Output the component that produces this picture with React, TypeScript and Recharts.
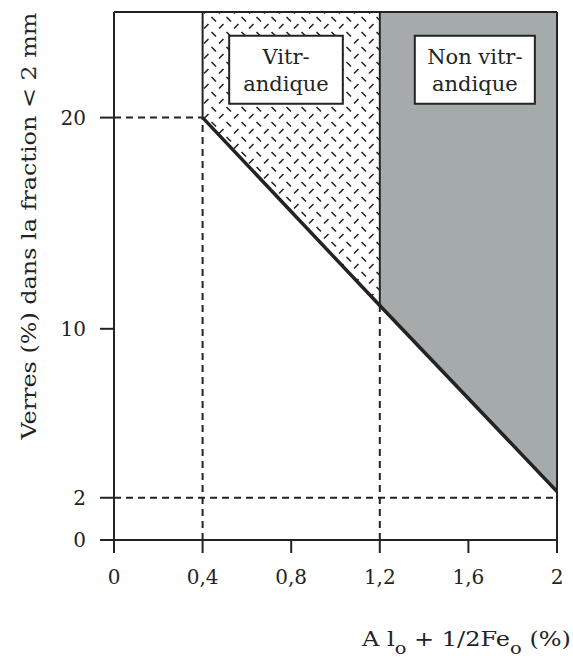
import {
  ComposedChart,
  Area,
  Line,
  XAxis,
  YAxis,
  ReferenceLine,
  ReferenceArea,
  Label,
} from 'recharts';

// axis ticks
const xTicks = [0, 0.4, 0.8, 1.2, 1.6, 2];
const yTicks = [0, 2, 10, 20];
const yTop = 25;

// lower boundary of the two glass domains (Al_o + 1/2Fe_o vs glass %)
const boundaryX = [0.4, 1.2, 2];
const boundaryY = [20, 11.1, 2.3];

// guide lines, [x1, y1, x2, y2]
const dashedGuides = [
  [0, 20, 0.4, 20],
  [0.4, 0, 0.4, 20],
  [1.2, 0, 1.2, 11.1],
  [0, 2, 2, 2],
];
const solidEdges = [
  [0.4, 20, 0.4, 25],
  [1.2, 11.1, 1.2, 25],
  [0, 25, 2, 25],
  [2, 0, 2, 25],
];

// label boxes, [x1, x2, y1, y2]
const boxLabels = [
  { lines: ['Vitr-', 'andique'], area: [0.52, 1.033, 20.65, 23.87] },
  { lines: ['Non vitr-', 'andique'], area: [1.358, 1.9, 20.65, 23.87] },
];

const INK = '#232323';
const FONT = 'DejaVu Serif';

const data = boundaryX.map((x, i) => ({
  x,
  vitr: i < 2 ? [boundaryY[i], yTop] : null,
  nonVitr: i >= 1 ? [boundaryY[i], yTop] : null,
  edge: boundaryY[i],
}));

const fmt = (v: number) => String(v).replace('.', ',');

const BoxText = ({ viewBox, lines }: any) => {
  if (!viewBox) return null;
  const cx = viewBox.x + viewBox.width / 2;
  const cy = viewBox.y + viewBox.height / 2;
  return (
    <text x={cx} y={cy} textAnchor="middle" fontFamily={FONT} fontSize={21} fill={INK}>
      <tspan x={cx} dy={-6}>{lines[0]}</tspan>
      <tspan x={cx} dy={27}>{lines[1]}</tspan>
    </text>
  );
};

export default function App() {
  return (
    <div style={{ position: 'absolute', left: 0, top: 0, background: '#fff' }}>
      <ComposedChart width={573} height={658} data={data} margin={{ top: 12, right: 16, bottom: 48, left: 0 }}>
        <defs>
          <pattern id="vitrHatch" width="15" height="15" patternUnits="userSpaceOnUse">
            <rect width="15" height="15" fill="#fff" />
            <line x1="1.5" y1="2" x2="6" y2="6.5" stroke={INK} strokeWidth={1.6} />
            <line x1="9" y1="13.5" x2="13.5" y2="9" stroke={INK} strokeWidth={1.6} />
          </pattern>
        </defs>
        <XAxis
          type="number"
          dataKey="x"
          domain={[0, 2]}
          ticks={xTicks}
          tickFormatter={fmt}
          allowDataOverflow
          height={70}
          tickSize={13}
          tickMargin={17}
          axisLine={{ stroke: INK, strokeWidth: 2 }}
          tickLine={{ stroke: INK, strokeWidth: 2 }}
          tick={{ fontSize: 20, fill: INK, fontFamily: FONT }}
        >
          <Label
            content={() => (
              <text
                x={362}
                y={646}
                fontFamily={FONT}
                fontSize={21}
                fill={INK}
                textLength={209}
                lengthAdjust="spacingAndGlyphs"
              >
                A l<tspan dy={8} fontSize={17}>o</tspan>
                <tspan dy={-8}> + 1/2Fe</tspan>
                <tspan dy={8} fontSize={17}>o</tspan>
                <tspan dy={-8}> (%)</tspan>
              </text>
            )}
          />
        </XAxis>
        <YAxis
          type="number"
          domain={[0, yTop]}
          ticks={yTicks}
          allowDataOverflow
          width={114}
          tickSize={14}
          tickMargin={14}
          axisLine={{ stroke: INK, strokeWidth: 2 }}
          tickLine={{ stroke: INK, strokeWidth: 2 }}
          tick={{ fontSize: 20, fill: INK, fontFamily: FONT }}
        >
          <Label
            content={() => (
              <text
                x={0}
                y={0}
                transform="translate(36 226) rotate(-90)"
                textAnchor="middle"
                fontFamily={FONT}
                fontSize={21}
                fill={INK}
                textLength={427}
                lengthAdjust="spacingAndGlyphs"
              >
                Verres (%) dans la fraction &lt; 2 mm
              </text>
            )}
          />
        </YAxis>
        <Area
          type="linear"
          dataKey="vitr"
          stroke="none"
          fill="url(#vitrHatch)"
          fillOpacity={1}
          isAnimationActive={false}
          connectNulls={false}
        />
        <Area
          type="linear"
          dataKey="nonVitr"
          stroke="none"
          fill="#a5abab"
          fillOpacity={1}
          isAnimationActive={false}
          connectNulls={false}
        />
        {dashedGuides.map(([x1, y1, x2, y2], i) => (
          <ReferenceLine
            key={'d' + i}
            segment={[{ x: x1, y: y1 }, { x: x2, y: y2 }]}
            stroke={INK}
            strokeWidth={2}
            strokeDasharray="7 5"
            ifOverflow="visible"
          />
        ))}
        {solidEdges.map(([x1, y1, x2, y2], i) => (
          <ReferenceLine
            key={'s' + i}
            segment={[{ x: x1, y: y1 }, { x: x2, y: y2 }]}
            stroke={INK}
            strokeWidth={2}
            ifOverflow="visible"
          />
        ))}
        <Line
          type="linear"
          dataKey="edge"
          stroke={INK}
          strokeWidth={3.5}
          dot={false}
          isAnimationActive={false}
        />
        {boxLabels.map((b, i) => (
          <ReferenceArea
            key={'b' + i}
            x1={b.area[0]}
            x2={b.area[1]}
            y1={b.area[2]}
            y2={b.area[3]}
            fill="#fff"
            fillOpacity={1}
            stroke={INK}
            strokeWidth={2}
            ifOverflow="visible"
            label={<BoxText lines={b.lines} />}
          />
        ))}
      </ComposedChart>
    </div>
  );
}
